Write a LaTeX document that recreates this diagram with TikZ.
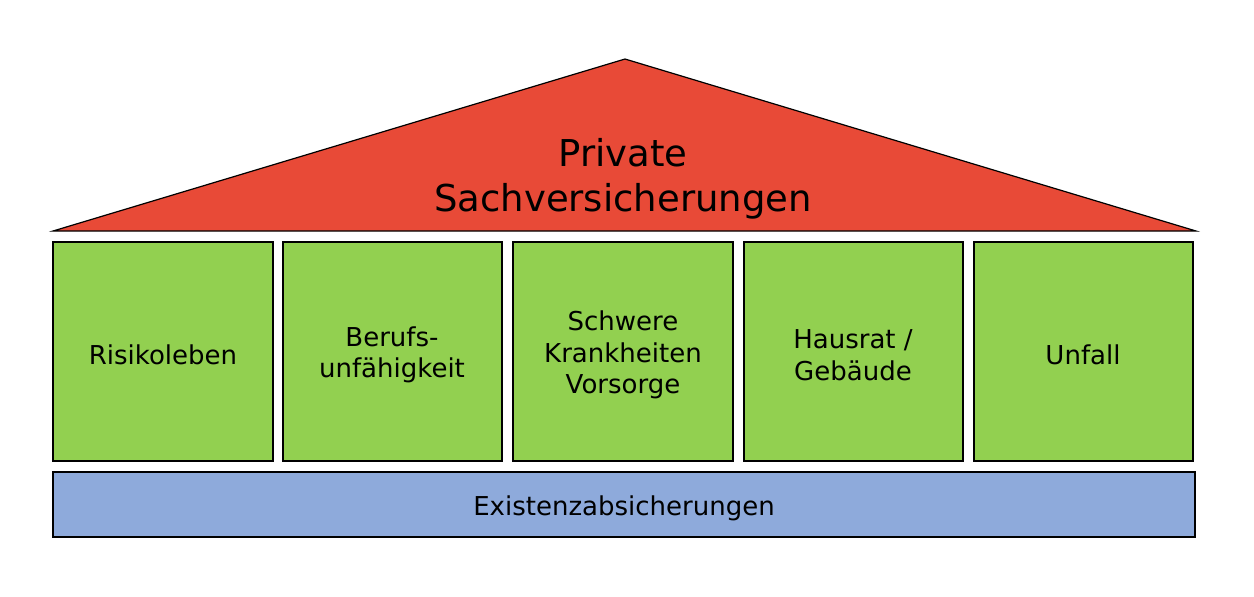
\documentclass[tikz,border=0pt]{standalone}
\usepackage{fontspec}
\setmainfont{DejaVu Sans}
\definecolor{dachrot}{HTML}{E84A37}
\definecolor{saeulengruen}{HTML}{92D050}
\definecolor{sockelblau}{HTML}{8EAADB}
\begin{document}
\begin{tikzpicture}[x=0.5pt,y=-0.5pt,
	saeule/.style={draw=black, line width=0.6pt, fill=saeulengruen},
	beschriftung/.style={align=center, font=\fontsize{13}{15.8}\selectfont, inner sep=0pt},
	titel/.style={align=center, font=\fontsize{18.5}{22.5}\selectfont, inner sep=0pt}]
	
		\useasboundingbox (0,0) rectangle (1254,596);
		
		% roof
		\draw[line width=0.6pt, fill=dachrot] (53,231) -- (625,59) -- (1196,231) -- cycle;
		\node[titel] (dach) at (623,179) {Private\\Sachversicherungen};
		
		% pillars
		\draw[saeule] (53,242) rectangle (273,461);
		\draw[saeule] (283,242) rectangle (502,461);
		\draw[saeule] (513,242) rectangle (733,461);
		\draw[saeule] (744,242) rectangle (963,461);
		\draw[saeule] (974,242) rectangle (1193,461);
		
		% labels
		\node[beschriftung] (risiko) at (163,355) {Risikoleben};
		\node[beschriftung] (beruf) at (392,355) {Berufs-\\unfähigkeit};
		\node[beschriftung] (krank) at (623,355) {Schwere\\Krankheiten\\Vorsorge};
		\node[beschriftung] (haus) at (853,355) {Hausrat /\\Gebäude};
		\node[beschriftung] (unfall) at (1083,355) {Unfall};
		
		% base
		\draw[line width=0.6pt, fill=sockelblau] (53,472) rectangle (1195,537);
		\node[beschriftung] (sockel) at (624,508) {Existenzabsicherungen};
	
	\end{tikzpicture}
\end{document}
